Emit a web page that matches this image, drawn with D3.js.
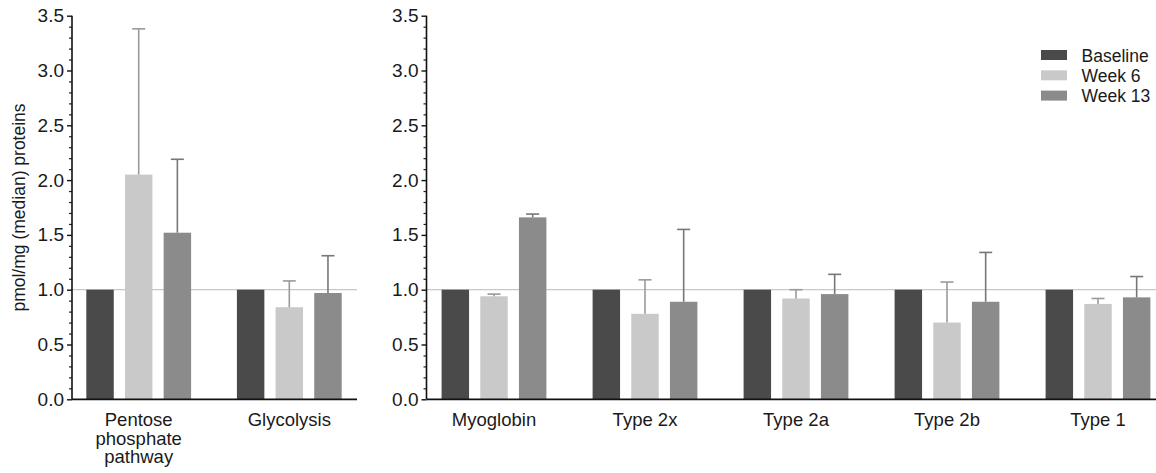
<!DOCTYPE html>
<html>
<head>
<meta charset="utf-8">
<script src="https://cdn.jsdelivr.net/npm/d3@7"></script>
<style>
  body { margin: 0; background: #fff; }
  svg text { font-family: "Liberation Sans", Arial, sans-serif; fill: #1a1a1a; }
</style>
</head>
<body>
<div id="chart"></div>
<script>
// data
const series = ["Baseline", "Week 6", "Week 13"];
const leftCategories = ["Pentose\nphosphate\npathway", "Glycolysis"];
const rightCategories = ["Myoglobin", "Type 2x", "Type 2a", "Type 2b", "Type 1"];
const baselineValues = [1.0, 1.0, 1.0, 1.0, 1.0, 1.0, 1.0];
const week6Values = [2.05, 0.84, 0.94, 0.78, 0.92, 0.70, 0.87];
const week6Upper = [3.38, 1.08, 0.96, 1.09, 1.00, 1.07, 0.92];
const week13Values = [1.52, 0.97, 1.66, 0.89, 0.96, 0.89, 0.93];
const week13Upper = [2.19, 1.31, 1.69, 1.55, 1.14, 1.34, 1.12];
const yTicks = [0, 0.5, 1.0, 1.5, 2.0, 2.5, 3.0, 3.5];

const width = 1156, height = 473;
const colors = { "Baseline": "#4a4a4a", "Week 6": "#c9c9c9", "Week 13": "#8b8b8b" };
const errColors = { "Week 6": "#9a9a9a", "Week 13": "#777777" };

const svg = d3.select("#chart").append("svg")
  .attr("width", width)
  .attr("height", height);

const y = d3.scaleLinear().domain([0, 3.5]).range([399.3, 15.7]);

// build rows: one per category, across both panels
const allCategories = leftCategories.concat(rightCategories);
const rows = allCategories.map((c, i) => ({
  category: c,
  values: [
    { key: "Baseline", value: baselineValues[i], upper: null },
    { key: "Week 6", value: week6Values[i], upper: week6Upper[i] },
    { key: "Week 13", value: week13Values[i], upper: week13Upper[i] }
  ]
}));

const panels = [
  { cats: leftCategories, axisX: 72, xEnd: 357, range: [63.4, 364.6] },
  { cats: rightCategories, axisX: 426.5, xEnd: 1156, range: [418.5, 1173.5] }
];

const inner = d3.scaleBand().domain(series).range([-58, 58])
  .paddingInner(0.29).paddingOuter(0.145);

panels.forEach(p => {
  const x = d3.scaleBand().domain(p.cats).range(p.range);
  const g = svg.append("g");

  // reference line at 1.0
  g.append("line")
    .attr("x1", p.axisX).attr("x2", p.xEnd)
    .attr("y1", y(1)).attr("y2", y(1))
    .attr("stroke", "#c8c8c8").attr("stroke-width", 1.2);

  const groups = g.selectAll("g.cat")
    .data(rows.filter(r => p.cats.includes(r.category)))
    .enter().append("g")
    .attr("class", "cat")
    .attr("transform", d => `translate(${x(d.category) + x.bandwidth() / 2},0)`);

  groups.selectAll("rect")
    .data(d => d.values)
    .enter().append("rect")
    .attr("x", d => inner(d.key))
    .attr("y", d => y(d.value))
    .attr("width", inner.bandwidth())
    .attr("height", d => y(0) - y(d.value))
    .attr("fill", d => colors[d.key]);

  // error bars (upper only)
  const errs = groups.selectAll("g.err")
    .data(d => d.values.filter(v => v.upper !== null))
    .enter().append("g")
    .attr("class", "err")
    .attr("stroke", d => errColors[d.key])
    .attr("stroke-width", 1.6);
  errs.append("line")
    .attr("x1", d => inner(d.key) + inner.bandwidth() / 2)
    .attr("x2", d => inner(d.key) + inner.bandwidth() / 2)
    .attr("y1", d => y(d.value))
    .attr("y2", d => y(d.upper));
  errs.append("line")
    .attr("x1", d => inner(d.key) + inner.bandwidth() / 2 - 6.5)
    .attr("x2", d => inner(d.key) + inner.bandwidth() / 2 + 6.5)
    .attr("y1", d => y(d.upper))
    .attr("y2", d => y(d.upper));

  // y axis: minor then major
  const minor = d3.range(0, 36).map(i => i / 10).filter(v => Math.round(v * 10) % 5 !== 0);
  g.append("g")
    .attr("transform", `translate(${p.axisX},0)`)
    .call(d3.axisLeft(y).tickValues(minor).tickSize(3).tickFormat(""))
    .call(a => a.select(".domain").remove())
    .selectAll("line").attr("stroke", "#222").attr("stroke-width", 1.2);

  const yAxis = g.append("g")
    .attr("transform", `translate(${p.axisX},0)`)
    .call(d3.axisLeft(y).tickValues(yTicks).tickSize(5).tickPadding(3).tickFormat(d3.format(".1f")));
  yAxis.select(".domain").attr("stroke", "#111").attr("stroke-width", 1.6)
    .attr("d", `M0,${y(3.5)}V${y(0)}`);
  yAxis.selectAll("line").attr("stroke", "#111").attr("stroke-width", 1.4);
  yAxis.selectAll("text").attr("font-size", "19px").style("font-family", "Liberation Sans, Arial, sans-serif");

  // x axis line
  g.append("line")
    .attr("x1", p.axisX).attr("x2", p.xEnd)
    .attr("y1", y(0)).attr("y2", y(0))
    .attr("stroke", "#111").attr("stroke-width", 1.8);

  // category labels
  g.selectAll("text.cat")
    .data(p.cats)
    .enter().append("text")
    .attr("class", "cat")
    .attr("text-anchor", "middle")
    .attr("font-size", "18.5px")
    .attr("transform", d => `translate(${x(d) + x.bandwidth() / 2},426)`)
    .each(function(d) {
      d.split("\n").forEach((line, i) => {
        d3.select(this).append("tspan")
          .attr("x", 0).attr("y", i * 18.7)
          .text(line);
      });
    });
});

// y axis title
svg.append("text")
  .attr("transform", `translate(25,${y(1.75)}) rotate(-90)`)
  .attr("text-anchor", "middle")
  .attr("font-size", "17.5px")
  .text("pmol/mg (median) proteins");

// legend
const legend = svg.append("g").attr("transform", "translate(1041,50)");
legend.selectAll("rect")
  .data(series)
  .enter().append("rect")
  .attr("x", 0)
  .attr("y", (d, i) => i * 20.3)
  .attr("width", 26)
  .attr("height", 10)
  .attr("fill", d => colors[d]);
legend.selectAll("text")
  .data(series)
  .enter().append("text")
  .attr("x", 40.5)
  .attr("y", (d, i) => i * 20.3 + 11.5)
  .attr("font-size", "17.5px")
  .text(d => d);
</script>
</body>
</html>
